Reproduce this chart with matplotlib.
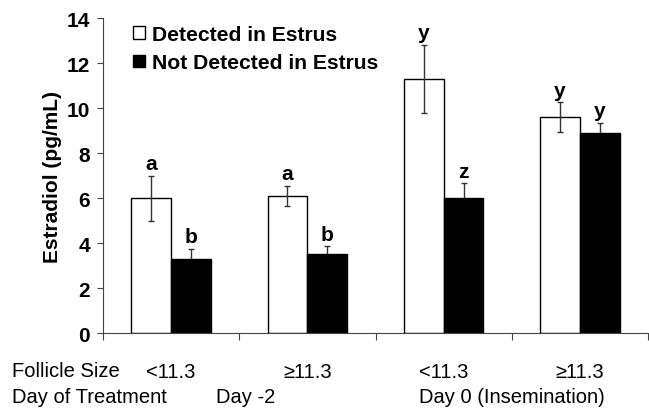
import matplotlib
matplotlib.use("Agg")
import matplotlib.pyplot as plt
from matplotlib import font_manager
from matplotlib.patches import Patch
import numpy as np

plt.rcParams['font.family'] = ['Liberation Sans', 'DejaVu Sans']

# data
follicle = ['<11.3', '\u226511.3', '<11.3', '\u226511.3']
detected = [6.0, 6.1, 11.3, 9.6]
detected_err = [1.0, 0.45, 1.5, 0.65]
not_detected = [3.3, 3.5, 6.0, 8.9]
not_detected_err = [0.45, 0.35, 0.65, 0.45]
letters_det = ['a', 'a', 'y', 'y']
letters_not = ['b', 'b', 'z', 'y']

# the lower labels look like a tall narrow font
names = {f.name for f in font_manager.fontManager.ttflist}
if 'Liberation Sans Narrow' in names:
    low_font, low_size = ['Liberation Sans Narrow', 'DejaVu Sans'], 17.5
else:
    low_font, low_size = ['Liberation Sans', 'DejaVu Sans'], 14.5

fig = plt.figure(figsize=(6.49, 4.14), dpi=100)
ax = fig.add_axes([0.1587, 0.1932, 0.8398, 0.7608])

x = np.arange(4) + 0.5
w = 0.292
ax.bar(x - w/2, detected, w, color='white', edgecolor='black', linewidth=1.0, zorder=2)
ax.bar(x + w/2, not_detected, w, color='black', edgecolor='black', linewidth=1.0, zorder=2)
ax.errorbar(x - w/2, detected, yerr=detected_err, fmt='none', ecolor='#333333',
            elinewidth=1.0, capsize=2.5, capthick=1.0, zorder=3)
ax.errorbar(x + w/2, not_detected, yerr=not_detected_err, fmt='none', ecolor='#333333',
            elinewidth=1.0, capsize=2.5, capthick=1.0, zorder=1)

for i in range(4):
    ax.annotate(letters_det[i], (x[i] - w/2, detected[i] + detected_err[i]),
                xytext=(0, 2), textcoords='offset points', ha='center', va='bottom',
                fontsize=15, fontweight='bold')
    ax.annotate(letters_not[i], (x[i] + w/2, not_detected[i] + not_detected_err[i]),
                xytext=(0, 2), textcoords='offset points', ha='center', va='bottom',
                fontsize=15, fontweight='bold')

ax.set_xlim(0, 4)
ax.set_ylim(0, 14)
ax.set_yticks(range(0, 15, 2))
ax.set_xticks(range(0, 5))
ax.set_xticklabels([])
ax.spines['top'].set_visible(False)
ax.spines['right'].set_visible(False)
for s in ['left', 'bottom']:
    ax.spines[s].set_color('#444444')
ax.tick_params(axis='y', direction='out', length=4.5, pad=5, labelsize=15, color='#444444')
ax.tick_params(axis='x', direction='out', length=5, color='#444444')
for lab in ax.get_yticklabels():
    lab.set_fontweight('bold')
ax.set_ylabel('Estradiol (pg/mL)', fontsize=15, fontweight='bold', labelpad=3)

handles = [Patch(facecolor='white', edgecolor='black', label='Detected in Estrus'),
           Patch(facecolor='black', edgecolor='black', label='Not Detected in Estrus')]
ax.legend(handles=handles, loc='upper left', bbox_to_anchor=(0.055, 0.978),
          frameon=False, prop={'weight': 'bold', 'size': 15.2},
          handlelength=0.55, handleheight=0.55, handletextpad=0.33,
          borderpad=0, borderaxespad=0, labelspacing=0.45)

fig.text(12/649, 1 - 372/414, 'Follicle Size', fontsize=low_size, family=low_font, va='center')
fig.text(12/649, 1 - 398/414, 'Day of Treatment', fontsize=low_size, family=low_font, va='center')
for i in range(4):
    ax.text(x[i], -0.121, follicle[i], transform=ax.get_xaxis_transform(),
            fontsize=low_size, family=low_font, ha='center', va='center')
ax.text(1.05, -0.203, 'Day -2', transform=ax.get_xaxis_transform(),
        fontsize=low_size, family=low_font, ha='center', va='center')
ax.text(3.0, -0.203, 'Day 0 (Insemination)', transform=ax.get_xaxis_transform(),
        fontsize=low_size, family=low_font, ha='center', va='center')

fig.savefig('out.png', dpi=100)
